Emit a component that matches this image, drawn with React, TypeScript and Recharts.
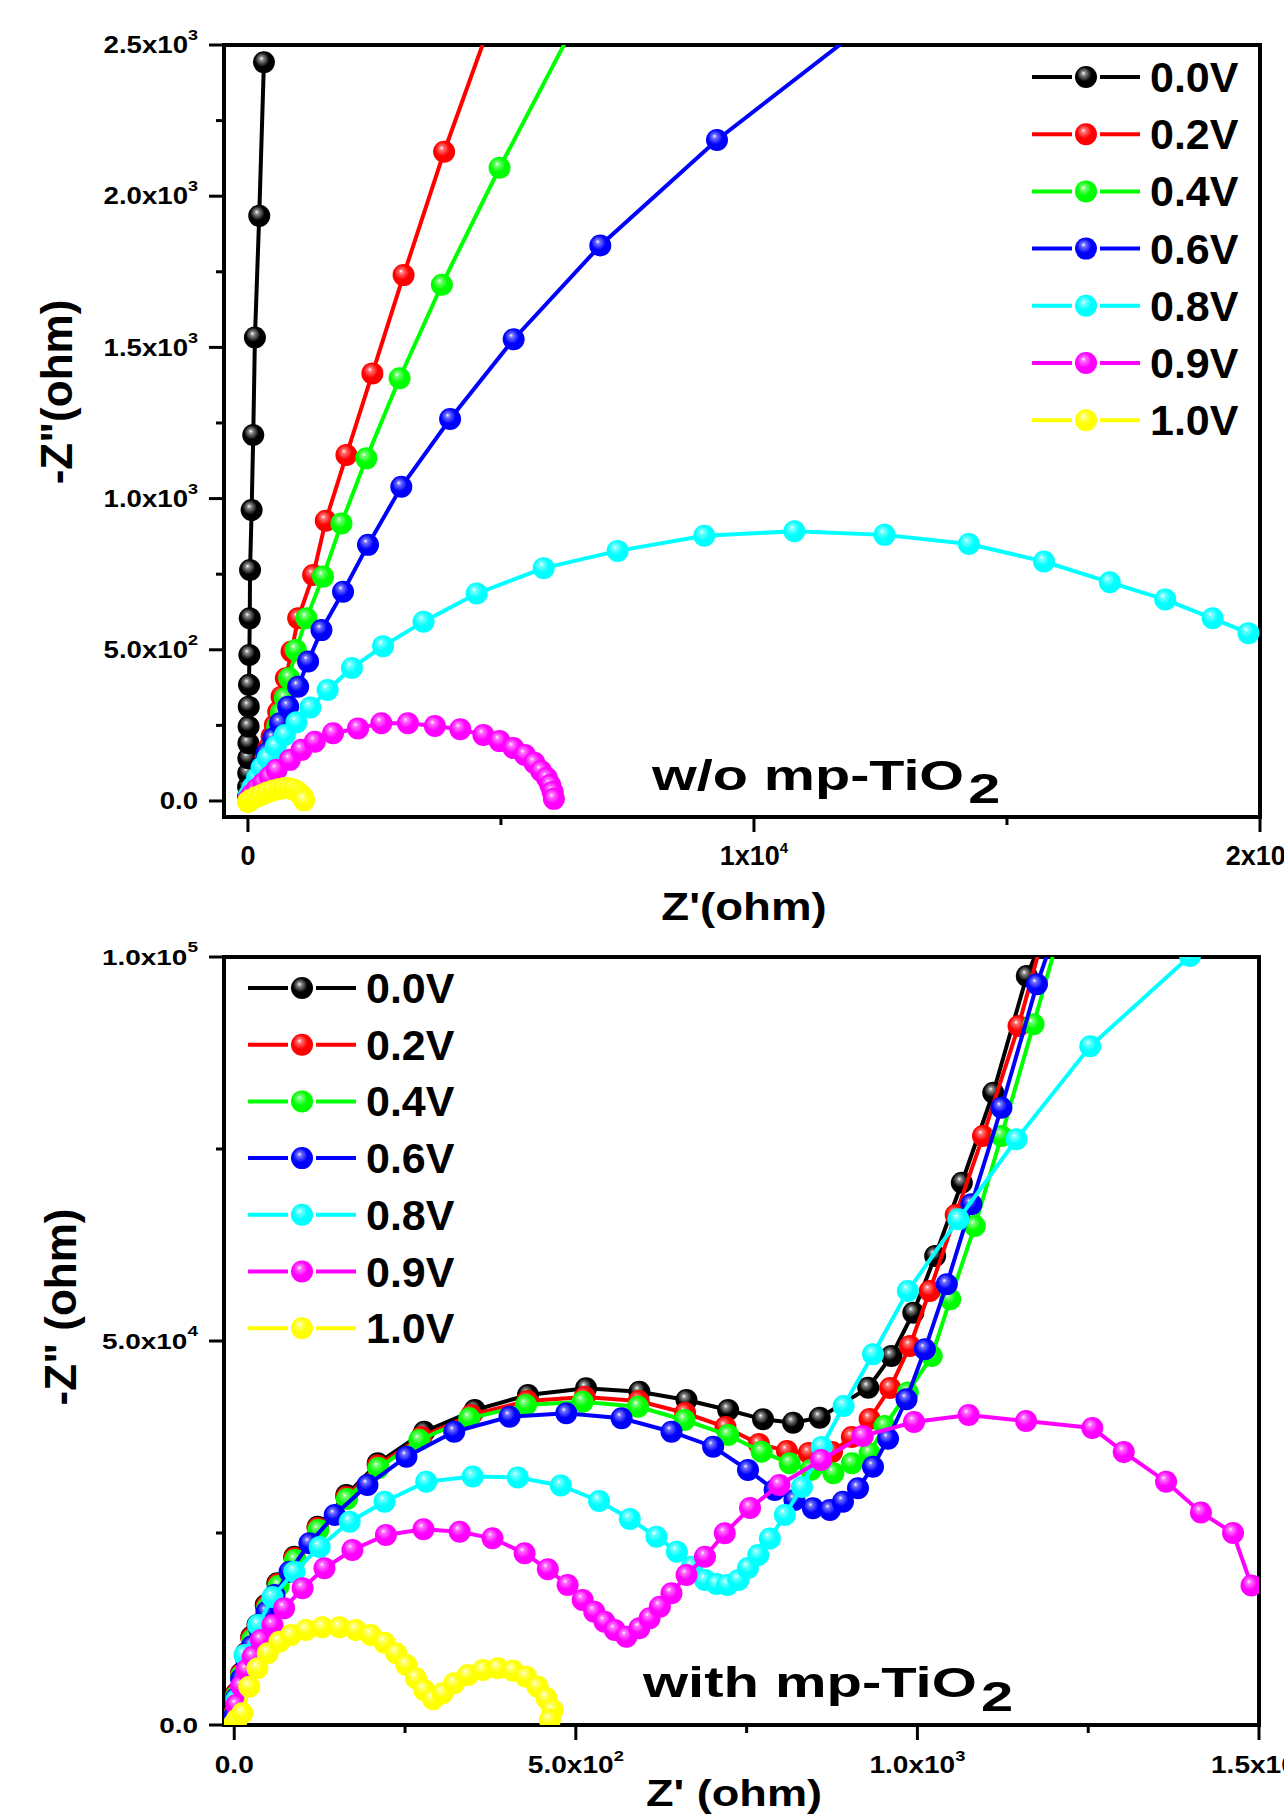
import React from "react";
import { ScatterChart, Scatter, XAxis, YAxis, ReferenceArea } from "recharts";

const FONT = "'Liberation Sans', Arial, Helvetica, sans-serif";

const voltages = ["0.0V", "0.2V", "0.4V", "0.6V", "0.8V", "0.9V", "1.0V"];
const colors = ["#000000", "#ff0000", "#00ff00", "#0000ff", "#00ffff", "#ff00ff", "#ffff00"];

// top panel (w/o mp-TiO2): [Z', -Z''] in ohm
const top00 = [[2,13],[4,47],[6,92],[8,141],[10,191],[13,246],[16,312],[22,384],[28,483],[36,604],[42,764],[73,962],[105,1210],[138,1533],[223,1935],[316,2443]];
const top02 = [[20,3],[138,25],[204,59],[270,97],[335,136],[401,174],[467,213],[532,251],[598,295],[664,345],[749,406],[861,494],[992,604],[1288,747],[1538,927],[1946,1144],[2459,1414],[3076,1739],[3877,2147],[4850,2600]];
const top04 = [[20,2],[184,20],[250,53],[316,92],[381,130],[447,169],[513,207],[578,246],[651,290],[730,340],[815,406],[947,499],[1157,604],[1485,742],[1848,918],[2341,1133],[2997,1398],[3832,1707],[4973,2094],[6650,2630]];
const top06 = [[15,3],[105,31],[171,69],[270,113],[369,158],[499,207],[631,257],[795,312],[992,378],[1189,461],[1453,565],[1880,692],[2373,847],[3031,1039],[3995,1263],[5251,1527],[6963,1837],[9269,2186],[12100,2553]];
const top08 = [[20,20],[90,45],[180,76],[270,110],[388,141],[548,180],[730,218],[959,260],[1233,309],[1575,367],[2055,440],[2671,512],[3470,593],[4521,686],[5845,770],[7306,827],[9018,877],[10799,892],[12580,880],[14247,850],[15731,792],[17032,723],[18128,666],[19064,604],[19772,555]];
const top09 = [[5,5],[80,22],[180,40],[302,59],[430,80],[566,103],[828,136],[1059,169],[1321,196],[1682,224],[2175,240],[2637,257],[3161,257],[3694,248],[4196,237],[4654,218],[4973,198],[5246,175],[5475,152],[5660,126],[5794,99],[5908,76],[5975,53],[6022,30],[6046,7]];
const top10 = [[0,-3],[60,4],[150,12],[260,20],[380,28],[500,35],[620,40],[720,43],[820,42],[910,37],[990,29],[1050,20],[1090,11],[1110,2]];

// bottom panel (with mp-TiO2)
const bot00 = [[0,1700],[3,4127],[10,6731],[17,9335],[25,11497],[34,13020],[46,15624],[63,18449],[88,21913],[122,25819],[164,29946],[210,34073],[278,38188],[352,41013],[430,42966],[515,43838],[593,43396],[662,42315],[723,41013],[774,39802],[818,39359],[857,40010],[928,43916],[962,48044],[994,53681],[1026,61064],[1065,70608],[1111,82325],[1160,97520],[1200,106000]];
const bot02 = [[0,1500],[3,4036],[10,6640],[18,9374],[25,11327],[35,12890],[47,15494],[64,18358],[88,21743],[122,25649],[164,29686],[210,33787],[274,37498],[347,40362],[429,42185],[513,42706],[592,42185],[660,40622],[719,38800],[768,36586],[809,35675],[841,35414],[875,35545],[904,37498],[930,39842],[960,43878],[989,49346],[1018,56507],[1056,66402],[1096,76688],[1148,91010],[1194,106000]];
const bot04 = [[0,1300],[3,3776],[10,6380],[18,8854],[26,11067],[36,12629],[48,15233],[65,18098],[89,21483],[123,25389],[165,29425],[211,33462],[271,37107],[344,39932],[427,41664],[510,42094],[591,41443],[659,39711],[723,37758],[772,35584],[813,34073],[844,33201],[877,32771],[904,34073],[930,35375],[952,38930],[986,43300],[1021,48044],[1048,55426],[1084,64970],[1123,76688],[1170,91231],[1217,106000]];
const bot06 = [[0,1200],[3,3515],[10,5989],[18,8333],[26,10286],[37,12369],[47,14713],[59,16926],[81,19960],[110,23658],[147,27342],[195,31248],[252,34933],[322,38188],[403,40141],[486,40583],[567,39932],[640,38188],[701,36235],[752,33201],[791,30597],[820,29295],[847,28214],[872,27993],[891,29074],[913,30819],[935,33631],[957,37264],[984,42407],[1011,48917],[1043,57380],[1079,67796],[1123,80373],[1175,96440],[1212,106000]];
const bot08 = [[3,3255],[15,9114],[35,13020],[56,16666],[88,19960],[125,23176],[169,26470],[220,29074],[281,31678],[349,32355],[415,32225],[478,31183],[534,29165],[579,26821],[618,24517],[648,22564],[670,20611],[689,18879],[706,18358],[722,18228],[738,18879],[752,20441],[767,22134],[784,24282],[806,27342],[831,30988],[860,36196],[892,41534],[935,48265],[986,56507],[1060,65843],[1145,76259],[1253,88367],[1399,100124]];
const bot09 = [[3,2604],[10,5078],[18,7161],[27,8893],[39,11067],[56,13020],[73,15194],[100,17800],[132,20402],[173,22785],[222,24738],[277,25480],[330,25168],[378,24309],[425,22355],[459,20272],[488,18228],[510,16275],[527,14752],[542,13450],[557,12369],[574,11497],[593,12590],[608,13892],[623,15403],[640,17148],[662,19530],[689,21913],[718,24959],[755,28253],[798,31248],[859,34503],[920,37628],[995,39450],[1075,40362],[1159,39580],[1256,38669],[1302,35545],[1364,31677],[1415,27668],[1462,24998],[1489,18163]];
const bot10 = [[0,200],[4,700],[12,1523],[22,4987],[34,7382],[49,9335],[66,10846],[83,11718],[105,12369],[129,12720],[154,12720],[178,12369],[200,11718],[220,10716],[237,9335],[252,7812],[266,6080],[278,4557],[291,3346],[305,4127],[322,5429],[342,6510],[364,7161],[386,7382],[408,7070],[427,6289],[444,4987],[457,3476],[466,1953],[462,651]];

const topSeries = [top00, top02, top04, top06, top08, top09, top10];
const botSeries = [bot00, bot02, bot04, bot06, bot08, bot09, bot10];

// ticks
const topXTicks = [0, 5000, 10000, 15000, 20000];
const topXMajors = [0, 10000, 20000];
const topXLabels = [["0", ""], ["1x10", "4"], ["2x10", "4"]];
const topYTicks = [0, 250, 500, 750, 1000, 1250, 1500, 1750, 2000, 2250, 2500];
const topYMajors = [0, 500, 1000, 1500, 2000, 2500];
const topYLabels = [["0.0", ""], ["5.0x10", "2"], ["1.0x10", "3"], ["1.5x10", "3"], ["2.0x10", "3"], ["2.5x10", "3"]];
const botXTicks = [0, 250, 500, 750, 1000, 1250, 1500];
const botXMajors = [0, 500, 1000, 1500];
const botXLabels = [["0.0", ""], ["5.0x10", "2"], ["1.0x10", "3"], ["1.5x10", "3"]];
const botYTicks = [0, 25000, 50000, 75000, 100000];
const botYMajors = [0, 50000, 100000];
const botYLabels = [["0.0", ""], ["5.0x10", "4"], ["1.0x10", "5"]];

const toPts = (a: number[][]) => a.map(([x, y]) => ({ x, y }));

const mix = (hex: string, t: number) => {
  const n = parseInt(hex.slice(1), 16);
  const ch = [(n >> 16) & 255, (n >> 8) & 255, n & 255].map((c) => Math.round(c + (255 - c) * t));
  return `rgb(${ch[0]},${ch[1]},${ch[2]})`;
};

const R = 11;

const sphere = (i: number) => (p: any) =>
  p.cx == null ? <g /> : <circle cx={p.cx} cy={p.cy} r={R} fill={`url(#sph${i})`} />;

const XTick = ({ x, y, payload, cfg }: any) => {
  const i = cfg.majors.indexOf(payload.value);
  const major = i >= 0;
  return (
    <g>
      <line x1={x} x2={x} y1={y} y2={y + (major ? 15 : 8)} stroke="#000" strokeWidth={3} />
      {major && (
        <g transform={`translate(${x},${y + 48}) scale(${cfg.sx},1)`}>
          <text x={0} y={0} textAnchor="middle" fontSize={cfg.size} fontWeight="bold" fontFamily={FONT} fill="#000">
            {cfg.labels[i][0]}
            {cfg.labels[i][1] ? <tspan dy={-12} fontSize={15}>{cfg.labels[i][1]}</tspan> : null}
          </text>
        </g>
      )}
    </g>
  );
};

const YTick = ({ x, y, payload, cfg }: any) => {
  const i = cfg.majors.indexOf(payload.value);
  const major = i >= 0;
  return (
    <g>
      <line x1={x - (major ? 15 : 8)} x2={x} y1={y} y2={y} stroke="#000" strokeWidth={3} />
      {major && (
        <g transform={`translate(${x - 26},${y + cfg.size * 0.36}) scale(${cfg.sx},1)`}>
          <text x={0} y={0} textAnchor="end" fontSize={cfg.size} fontWeight="bold" fontFamily={FONT} fill="#000">
            {cfg.labels[i][0]}
            {cfg.labels[i][1] ? <tspan dy={-13} fontSize={15}>{cfg.labels[i][1]}</tspan> : null}
          </text>
        </g>
      )}
    </g>
  );
};

const Panel = ({ series, xDomain, yDomain, xTicks, yTicks, xCfg, yCfg, height, margin }: any) => (
  <ScatterChart width={1284} height={height} margin={margin}>
    <XAxis
      type="number"
      dataKey="x"
      domain={xDomain}
      allowDataOverflow
      ticks={xTicks}
      interval={0}
      height={1}
      tickSize={0}
      tickMargin={0}
      tickLine={false}
      axisLine={{ stroke: "#000", strokeWidth: 4 }}
      tick={(p: any) => <XTick {...p} cfg={xCfg} />}
    />
    <YAxis
      type="number"
      dataKey="y"
      domain={yDomain}
      allowDataOverflow
      ticks={yTicks}
      interval={0}
      width={1}
      tickSize={0}
      tickMargin={0}
      tickLine={false}
      axisLine={{ stroke: "#000", strokeWidth: 4 }}
      tick={(p: any) => <YTick {...p} cfg={yCfg} />}
    />
    <ReferenceArea
      x1={xDomain[0]}
      x2={xDomain[1]}
      y1={yDomain[0]}
      y2={yDomain[1]}
      fill="none"
      stroke="#000"
      strokeWidth={4}
      fillOpacity={0}
    />
    {series.map((d: number[][], i: number) => (
      <Scatter
        key={voltages[i]}
        name={voltages[i]}
        data={toPts(d)}
        fill={colors[i]}
        stroke={colors[i]}
        line={{ stroke: colors[i], strokeWidth: 4 }}
        shape={sphere(i)}
        isAnimationActive={false}
      />
    ))}
  </ScatterChart>
);

const LegendBlock = ({ x, y, step }: { x: number; y: number; step: number }) => (
  <g>
    {voltages.map((v, i) => {
      const cy = y + i * step;
      return (
        <g key={v}>
          <line x1={x} x2={x + 40} y1={cy} y2={cy} stroke={colors[i]} strokeWidth={4} />
          <line x1={x + 68} x2={x + 108} y1={cy} y2={cy} stroke={colors[i]} strokeWidth={4} />
          <circle cx={x + 54} cy={cy} r={R} fill={`url(#sph${i})`} />
          <text x={x + 118} y={cy + 15} fontSize={43} fontWeight="bold" fontFamily={FONT} fill="#000">
            {v}
          </text>
        </g>
      );
    })}
  </g>
);

const Stretch = ({ x, y, sx, size, anchor = "start", children }: any) => (
  <g transform={`translate(${x},${y}) scale(${sx},1)`}>
    <text x={0} y={0} textAnchor={anchor} fontSize={size} fontWeight="bold" fontFamily={FONT} fill="#000">
      {children}
    </text>
  </g>
);

const VTitle = ({ x, y, children }: any) => (
  <g transform={`translate(${x},${y}) rotate(-90)`}>
    <text x={0} y={0} textAnchor="middle" fontSize={44} fontWeight="bold" fontFamily={FONT} fill="#000">
      {children}
    </text>
  </g>
);

export default function App() {
  return (
    <div style={{ position: "absolute", left: 0, top: 0, width: 1284, height: 1816, overflow: "hidden", background: "#fff" }}>
      <div style={{ position: "absolute", left: 0, top: 0 }}>
        <Panel
          series={topSeries}
          xDomain={[-473, 20000]}
          yDomain={[-53, 2500]}
          xTicks={topXTicks}
          yTicks={topYTicks}
          xCfg={{ majors: topXMajors, labels: topXLabels, size: 27, sx: 1.0 }}
          yCfg={{ majors: topYMajors, labels: topYLabels, size: 23, sx: 1.2 }}
          height={940}
          margin={{ top: 45, right: 24, bottom: 122, left: 223 }}
        />
      </div>
      <div style={{ position: "absolute", left: 0, top: 940 }}>
        <Panel
          series={botSeries}
          xDomain={[-15, 1500]}
          yDomain={[0, 100000]}
          xTicks={botXTicks}
          yTicks={botYTicks}
          xCfg={{ majors: botXMajors, labels: botXLabels, size: 23, sx: 1.22 }}
          yCfg={{ majors: botYMajors, labels: botYLabels, size: 22, sx: 1.27 }}
          height={876}
          margin={{ top: 17, right: 25, bottom: 90, left: 223 }}
        />
      </div>
      <svg
        width={1284}
        height={1816}
        style={{ position: "absolute", left: 0, top: 0, pointerEvents: "none" }}
      >
        <defs>
          {colors.map((c, i) => (
            <radialGradient key={c} id={`sph${i}`} cx="0.45" cy="0.42" r="0.6" fx="0.38" fy="0.32">
              <stop offset="0" stopColor="#ffffff" />
              <stop offset="0.16" stopColor={mix(c, i === 0 ? 0.55 : 0.45)} />
              <stop offset="0.55" stopColor={c} />
              <stop offset="1" stopColor={c} />
            </radialGradient>
          ))}
        </defs>
        <LegendBlock x={1032} y={77} step={57.2} />
        <LegendBlock x={248} y={988} step={56.7} />
        <Stretch x={652} y={790} sx={1.37} size={42}>
          w/o mp-TiO<tspan dx={3} dy={13}>2</tspan>
        </Stretch>
        <Stretch x={643} y={1697} sx={1.38} size={42}>
          with mp-TiO<tspan dx={3} dy={14}>2</tspan>
        </Stretch>
        <Stretch x={744} y={920} sx={1.2} size={38} anchor="middle">
          Z'(ohm)
        </Stretch>
        <Stretch x={734} y={1806} sx={1.22} size={37} anchor="middle">
          Z' (ohm)
        </Stretch>
        <VTitle x={72} y={392}>{'-Z"(ohm)'}</VTitle>
        <VTitle x={76} y={1307}>{'-Z" (ohm)'}</VTitle>
      </svg>
    </div>
  );
}
